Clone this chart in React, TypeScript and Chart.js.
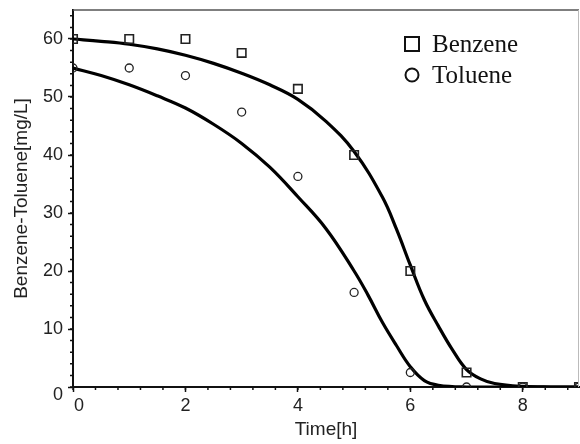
import React, { useEffect, useRef } from "react";
import { Chart, registerables } from "chart.js";

Chart.register(...registerables);

// Measured data (Time [h], concentration [mg/L])
const sampleTimes = [0, 1, 2, 3, 4, 5, 6, 7, 8, 9];
const benzeneObs = [60, 60, 60, 57.6, 51.4, 40, 20, 2.5, 0, 0];
const tolueneObs = [55, 55, 53.7, 47.4, 36.3, 16.3, 2.5, 0, 0, 0];

// Fitted model curves
const benzeneFitT = [0, 0.5, 1, 1.5, 2, 2.5, 3, 3.5, 4, 4.5, 5, 5.5, 5.75, 6, 6.25, 6.5, 6.75, 7, 7.25, 7.5, 8, 8.5, 9];
const benzeneFitV = [60, 59.6, 59.1, 58.3, 57.2, 55.8, 54.1, 52.1, 49.6, 45.8, 40.6, 32.8, 27.3, 21, 15, 10.5, 6.4, 3, 1.4, 0.6, 0.1, 0, 0];
const tolueneFitT = [0, 0.5, 1, 1.5, 2, 2.5, 3, 3.5, 4, 4.5, 5, 5.25, 5.5, 5.75, 6, 6.25, 6.5, 7, 8, 9];
const tolueneFitV = [55, 53.7, 52.1, 50.2, 48.1, 45.3, 42, 37.9, 32.8, 27.3, 20, 15.8, 11.2, 7.2, 3.5, 1.1, 0.3, 0, 0, 0];

const xMajorTicks = [0, 2, 4, 6, 8];
const yMajorTicks = [0, 10, 20, 30, 40, 50, 60];
const legendLabels = ["Benzene", "Toluene"];

const toXY = (xs: number[], ys: number[]) => xs.map((x, i) => ({ x, y: ys[i] }));

const decorPlugin = {
  id: "decor",
  afterDraw(chart: any) {
    const { ctx, chartArea, scales } = chart;
    const xs = scales.x;
    const ys = scales.y;
    ctx.save();
    // frame: top and right
    ctx.strokeStyle = "#555";
    ctx.lineWidth = 1.5;
    ctx.beginPath();
    ctx.moveTo(chartArea.left, chartArea.top);
    ctx.lineTo(chartArea.right, chartArea.top);
    ctx.stroke();
    ctx.strokeStyle = "#bbb";
    ctx.lineWidth = 1;
    ctx.beginPath();
    ctx.moveTo(chartArea.right - 0.5, chartArea.top);
    ctx.lineTo(chartArea.right - 0.5, chartArea.bottom);
    ctx.stroke();
    // minor ticks
    ctx.strokeStyle = "#111";
    ctx.lineWidth = 1.5;
    ctx.beginPath();
    for (let v = 0; v <= 9.001; v += 0.4) {
      const px = xs.getPixelForValue(v);
      ctx.moveTo(px, chartArea.bottom);
      ctx.lineTo(px, chartArea.bottom + 3);
    }
    for (let v = 0; v <= 65.001; v += 2) {
      const py = ys.getPixelForValue(v);
      ctx.moveTo(chartArea.left, py);
      ctx.lineTo(chartArea.left - 3, py);
    }
    ctx.stroke();
    // zero labels (offset as in original)
    ctx.fillStyle = "#222";
    ctx.font = "18px 'Liberation Sans', Arial, sans-serif";
    ctx.textAlign = "right";
    ctx.textBaseline = "middle";
    ctx.fillText("0", chartArea.left - 10, ys.getPixelForValue(0) + 8);
    ctx.textAlign = "left";
    ctx.textBaseline = "top";
    ctx.fillText("0", xs.getPixelForValue(0) + 1, chartArea.bottom + 10);
    // legend
    const lx = 412;
    ctx.strokeStyle = "#111";
    ctx.lineWidth = 2;
    ctx.strokeRect(lx - 7, 37, 14, 14);
    ctx.beginPath();
    ctx.arc(lx, 75, 6.5, 0, Math.PI * 2);
    ctx.stroke();
    ctx.fillStyle = "#111";
    ctx.font = "25px 'Liberation Serif', 'Times New Roman', serif";
    ctx.textAlign = "left";
    ctx.textBaseline = "alphabetic";
    ctx.fillText(legendLabels[0], 432, 52);
    ctx.fillText(legendLabels[1], 432, 83);
    ctx.restore();
  },
};

const zeroPadding = (s: any) => {
  s.paddingTop = 0;
  s.paddingBottom = 0;
  s.paddingLeft = 0;
  s.paddingRight = 0;
};

export default function App() {
  const canvasRef = useRef<HTMLCanvasElement | null>(null);

  useEffect(() => {
    if (!canvasRef.current) return;
    const tickFont = { family: "'Liberation Sans', Arial, sans-serif", size: 18 };
    const chart = new Chart(canvasRef.current, {
      type: "scatter",
      data: {
        datasets: [
          {
            label: "Benzene fit",
            data: toXY(benzeneFitT, benzeneFitV),
            showLine: true,
            borderColor: "#000",
            borderWidth: 3.2,
            pointRadius: 0,
            tension: 0.4,
            order: 2,
          },
          {
            label: "Toluene fit",
            data: toXY(tolueneFitT, tolueneFitV),
            showLine: true,
            borderColor: "#000",
            borderWidth: 3.2,
            pointRadius: 0,
            tension: 0.4,
            order: 2,
          },
          {
            label: legendLabels[0],
            data: toXY(sampleTimes, benzeneObs),
            showLine: false,
            pointStyle: "rect",
            pointRadius: 6,
            borderColor: "#222",
            borderWidth: 1.6,
            backgroundColor: "rgba(0,0,0,0)",
            order: 1,
          },
          {
            label: legendLabels[1],
            data: toXY(sampleTimes, tolueneObs),
            showLine: false,
            pointStyle: "circle",
            pointRadius: 4,
            borderColor: "#222",
            borderWidth: 1.3,
            backgroundColor: "rgba(0,0,0,0)",
            order: 1,
          },
        ],
      },
      options: {
        animation: false,
        responsive: true,
        maintainAspectRatio: false,
        layout: { autoPadding: false, padding: { top: 10, right: 1, left: 0, bottom: 0 } },
        plugins: { legend: { display: false }, tooltip: { enabled: false } },
        scales: {
          x: {
            type: "linear",
            min: 0,
            max: 9,
            afterFit: (s: any) => {
              s.height = 57;
              zeroPadding(s);
            },
            afterBuildTicks: (s: any) => {
              s.ticks = xMajorTicks.map((v) => ({ value: v }));
            },
            ticks: {
              font: tickFont,
              color: "#222",
              padding: 3,
              maxRotation: 0,
              callback: (v: any) => (v === 0 ? "" : String(v)),
            },
            grid: {
              drawOnChartArea: false,
              drawTicks: true,
              tickLength: 5,
              tickColor: "#111",
              tickWidth: 1.5,
            },
            border: { color: "#111", width: 2 },
            title: {
              display: true,
              text: "Time[h]",
              font: { family: "'Liberation Sans', Arial, sans-serif", size: 19 },
              color: "#222",
              padding: { top: 0, bottom: 3 },
            },
          },
          y: {
            type: "linear",
            min: 0,
            max: 65,
            afterFit: (s: any) => {
              s.width = 73;
              zeroPadding(s);
            },
            afterBuildTicks: (s: any) => {
              s.ticks = yMajorTicks.map((v) => ({ value: v }));
            },
            ticks: {
              font: tickFont,
              color: "#222",
              padding: 5,
              callback: (v: any) => (v === 0 ? "" : String(v)),
            },
            grid: {
              drawOnChartArea: false,
              drawTicks: true,
              tickLength: 5,
              tickColor: "#111",
              tickWidth: 1.5,
            },
            border: { color: "#111", width: 2 },
            title: {
              display: true,
              text: "Benzene-Toluene[mg/L]",
              font: { family: "'Liberation Sans', Arial, sans-serif", size: 19 },
              color: "#222",
              padding: { top: 10, bottom: 0 },
            },
          },
        },
      },
      plugins: [decorPlugin],
    });
    return () => chart.destroy();
  }, []);

  return (
    <div style={{ position: "absolute", left: 0, top: 0, width: 580, height: 444, background: "#fff" }}>
      <canvas ref={canvasRef} />
    </div>
  );
}
